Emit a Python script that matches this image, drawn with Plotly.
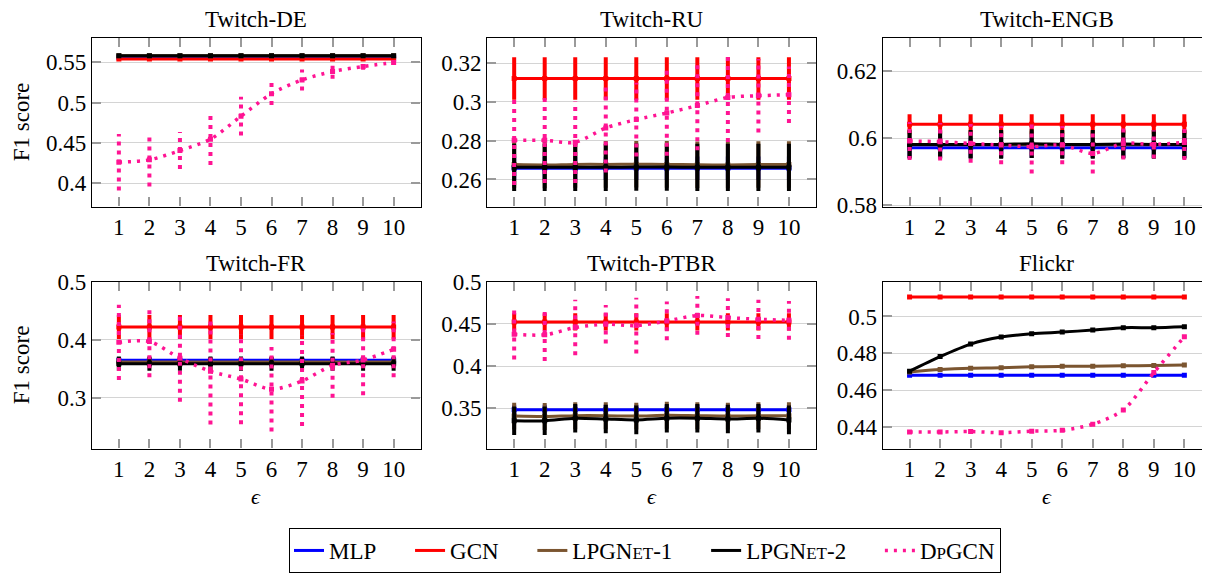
import plotly.graph_objects as go

# ---------------- data ----------------
eps = [1, 2, 3, 4, 5, 6, 7, 8, 9, 10]

# Twitch-DE
de_mlp = [0.556, 0.556, 0.556, 0.556, 0.556, 0.556, 0.556, 0.556, 0.556, 0.556]
de_mlp_sd = [0.002] * 10
de_gcn = [0.554, 0.554, 0.554, 0.554, 0.554, 0.554, 0.554, 0.554, 0.554, 0.554]
de_gcn_sd = [0.002] * 10
de_lpg1 = [0.558, 0.558, 0.558, 0.558, 0.558, 0.558, 0.558, 0.558, 0.558, 0.558]
de_lpg1_sd = [0.002] * 10
de_lpg2 = [0.558, 0.558, 0.558, 0.558, 0.558, 0.558, 0.558, 0.558, 0.558, 0.558]
de_lpg2_sd = [0.002] * 10
de_dp = [0.426, 0.429, 0.4405, 0.4546, 0.483, 0.511, 0.528, 0.5384, 0.5446, 0.5496]
de_dp_sd = [0.035, 0.033, 0.023, 0.032, 0.024, 0.014, 0.013, 0.009, 0.004, 0.003]

# Twitch-RU
ru_mlp = [0.2658] * 10
ru_mlp_sd = [0.006] * 10
ru_gcn = [0.3121] * 10
ru_gcn_sd = [0.011] * 10
ru_lpg1 = [0.2677, 0.2675, 0.2678, 0.2678, 0.2679, 0.2678, 0.2676, 0.2675, 0.2677, 0.2677]
ru_lpg1_sd = [0.012] * 10
ru_lpg2 = [0.2663, 0.2663, 0.2663, 0.2663, 0.2664, 0.2664, 0.2663, 0.2663, 0.2663, 0.2663]
ru_lpg2_sd = [0.0122] * 10
ru_dp = [0.2802, 0.2802, 0.2792, 0.2866, 0.2909, 0.2943, 0.2981, 0.3023, 0.3032, 0.3037]
ru_dp_sd = [0.023, 0.022, 0.021, 0.023, 0.019, 0.022, 0.023, 0.023, 0.019, 0.0146]

# Twitch-ENGB
engb_mlp = [0.5972] * 10
engb_mlp_sd = [0.003] * 10
engb_gcn = [0.6042] * 10
engb_gcn_sd = [0.003] * 10
engb_lpg1 = [0.5981] * 10
engb_lpg1_sd = [0.004] * 10
engb_lpg2 = [0.5982, 0.5982, 0.5982, 0.5982, 0.5984, 0.5982, 0.5982, 0.5983, 0.5982, 0.5982]
engb_lpg2_sd = [0.0043] * 10
engb_dp = [0.5992, 0.599, 0.5985, 0.598, 0.5975, 0.598, 0.5955, 0.5985, 0.5982, 0.5988]
engb_dp_sd = [0.0057, 0.0056, 0.0058, 0.0057, 0.008, 0.0057, 0.006, 0.0048, 0.0042, 0.0053]

# Twitch-FR
fr_mlp = [0.3644] * 10
fr_mlp_sd = [0.005] * 10
fr_gcn = [0.4218] * 10
fr_gcn_sd = [0.0207] * 10
fr_lpg1 = [0.3615] * 10
fr_lpg1_sd = [0.008] * 10
fr_lpg2 = [0.3586] * 10
fr_lpg2_sd = [0.0124] * 10
fr_dp = [0.3954, 0.397, 0.368, 0.3454, 0.332, 0.3144, 0.3287, 0.3557, 0.3649, 0.3833]
fr_dp_sd = [0.065, 0.062, 0.075, 0.092, 0.078, 0.073, 0.078, 0.056, 0.061, 0.048]

# Twitch-PTBR
ptbr_mlp = [0.348] * 10
ptbr_mlp_sd = [0.006] * 10
ptbr_gcn = [0.4524] * 10
ptbr_gcn_sd = [0.0103] * 10
ptbr_lpg1 = [0.3405, 0.340, 0.341, 0.341, 0.3405, 0.3415, 0.341, 0.3405, 0.341, 0.341]
ptbr_lpg1_sd = [0.016] * 10
ptbr_lpg2 = [0.335, 0.335, 0.338, 0.337, 0.336, 0.338, 0.338, 0.337, 0.338, 0.336]
ptbr_lpg2_sd = [0.017] * 10
ptbr_dp = [0.4378, 0.437, 0.4457, 0.4496, 0.448, 0.4535, 0.46, 0.4575, 0.4555, 0.4543]
ptbr_dp_sd = [0.030, 0.031, 0.033, 0.023, 0.033, 0.023, 0.023, 0.023, 0.0233, 0.023]

# Flickr
fl_mlp = [0.4681] * 10
fl_mlp_sd = [0.0004] * 10
fl_gcn = [0.5105] * 10
fl_gcn_sd = [0.0003] * 10
fl_lpg1 = [0.4699, 0.4712, 0.4719, 0.4721, 0.4727, 0.4729, 0.473, 0.4732, 0.4734, 0.4736]
fl_lpg1_sd = [0.0004] * 10
fl_lpg2 = [0.4703, 0.4782, 0.485, 0.4888, 0.4906, 0.4915, 0.4926, 0.4939, 0.4939, 0.4944]
fl_lpg2_sd = [0.0009] * 10
fl_dp = [0.4373, 0.4373, 0.4375, 0.4369, 0.4377, 0.4382, 0.4415, 0.4492, 0.4695, 0.489]
fl_dp_sd = [0.0008] * 10

titles = ["Twitch-DE", "Twitch-RU", "Twitch-ENGB", "Twitch-FR", "Twitch-PTBR", "Flickr"]
y_ranges = [[0.371, 0.58], [0.246, 0.333], [0.5796, 0.63],
            [0.212, 0.5], [0.302, 0.5], [0.4283, 0.5188]]
y_tickvals = [[0.4, 0.45, 0.5, 0.55], [0.26, 0.28, 0.3, 0.32], [0.58, 0.6, 0.62],
              [0.3, 0.4, 0.5], [0.35, 0.4, 0.45, 0.5], [0.44, 0.46, 0.48, 0.5]]
y_ticktext = [["0.4", "0.45", "0.5", "0.55"], ["0.26", "0.28", "0.3", "0.32"],
              ["0.58", "0.6", "0.62"], ["0.3", "0.4", "0.5"],
              ["0.35", "0.4", "0.45", "0.5"], ["0.44", "0.46", "0.48", "0.5"]]

SC = "<span style='font-size:17px'>"
PAD = "\u00a0" * 5
series_names = ["MLP" + PAD, "GCN" + PAD,
                "LPGN" + SC + "ET</span>-1" + PAD,
                "LPGN" + SC + "ET</span>-2" + PAD,
                "D" + SC + "P</span>GCN"]
colors = ["#0000ff", "#ff0000", "#7b5530", "#000000", "#ff1493"]

panels = [
    [(de_mlp, de_mlp_sd), (de_gcn, de_gcn_sd), (de_lpg1, de_lpg1_sd), (de_lpg2, de_lpg2_sd), (de_dp, de_dp_sd)],
    [(ru_mlp, ru_mlp_sd), (ru_gcn, ru_gcn_sd), (ru_lpg1, ru_lpg1_sd), (ru_lpg2, ru_lpg2_sd), (ru_dp, ru_dp_sd)],
    [(engb_mlp, engb_mlp_sd), (engb_gcn, engb_gcn_sd), (engb_lpg1, engb_lpg1_sd), (engb_lpg2, engb_lpg2_sd), (engb_dp, engb_dp_sd)],
    [(fr_mlp, fr_mlp_sd), (fr_gcn, fr_gcn_sd), (fr_lpg1, fr_lpg1_sd), (fr_lpg2, fr_lpg2_sd), (fr_dp, fr_dp_sd)],
    [(ptbr_mlp, ptbr_mlp_sd), (ptbr_gcn, ptbr_gcn_sd), (ptbr_lpg1, ptbr_lpg1_sd), (ptbr_lpg2, ptbr_lpg2_sd), (ptbr_dp, ptbr_dp_sd)],
    [(fl_mlp, fl_mlp_sd), (fl_gcn, fl_gcn_sd), (fl_lpg1, fl_lpg1_sd), (fl_lpg2, fl_lpg2_sd), (fl_dp, fl_dp_sd)],
]

# ---------------- layout geometry (screen pixels) ----------------
OFF = 8                      # default page body margin
W, H = 1210 - OFF, 573 - OFF  # figure size so it fits the window
FONT = "Liberation Serif"
FS = 23
col_px = [(92, 420.5), (487.3, 815.8), (882.7, 1211)]
row_px = [(38, 207), (282.3, 449.3)]
x_ranges = [[0.12, 10.88], [0.12, 10.88], [0.12, 10.84]]


def fx(p):
    return (p - OFF) / W


def fy(p):
    return 1 - (p - OFF) / H


fig = go.Figure()
annotations = []
layout_axes = {}

for i in range(6):
    r, c = divmod(i, 3)
    n = i + 1
    xa = "x" if n == 1 else f"x{n}"
    ya = "y" if n == 1 else f"y{n}"
    for k, (vals, sd) in enumerate(panels[i]):
        if k == 4:
            ex, ey = [], []
            for xv, m, s in zip(eps, vals, sd):
                ex += [xv, xv, None]
                ey += [m - s, m + s, None]
            fig.add_trace(go.Scatter(
                x=ex, y=ey, mode="lines", xaxis=xa, yaxis=ya,
                line=dict(color=colors[k], width=4, dash="4px,5px"),
                showlegend=False, hoverinfo="skip"))
            fig.add_trace(go.Scatter(
                x=eps, y=vals, mode="lines", xaxis=xa, yaxis=ya,
                name=series_names[k], legendgroup=str(k), showlegend=(i == 0),
                line=dict(color=colors[k], width=3.5, dash="3px,6px", shape="spline", smoothing=0.8)))
            fig.add_trace(go.Scatter(
                x=eps, y=vals, mode="markers", xaxis=xa, yaxis=ya,
                showlegend=False, legendgroup=str(k), hoverinfo="skip",
                marker=dict(symbol="square", size=5, color=colors[k])))
        else:
            fig.add_trace(go.Scatter(
                x=eps, y=vals, mode="lines", xaxis=xa, yaxis=ya,
                name=series_names[k], legendgroup=str(k), showlegend=(i == 0),
                line=dict(color=colors[k], width=3, shape="spline", smoothing=0.8)))
            fig.add_trace(go.Scatter(
                x=eps, y=vals, mode="markers", xaxis=xa, yaxis=ya,
                showlegend=False, legendgroup=str(k), hoverinfo="skip",
                marker=dict(symbol="square", size=5, color=colors[k]),
                error_y=dict(type="data", array=sd, visible=True,
                             color=colors[k], thickness=4, width=0)))

    x0, x1 = col_px[c]
    y0, y1 = row_px[r]
    last_col = (c == 2)
    cx = (x0 + x1) / 2
    layout_axes["xaxis" if n == 1 else f"xaxis{n}"] = dict(
        domain=[fx(x0), min(1.0, fx(x1))], anchor=ya, range=x_ranges[c],
        tickvals=eps, ticktext=[str(e) for e in eps],
        ticks="inside", ticklen=9, tickwidth=1.5, tickcolor="#9a9a9a",
        showline=True, linecolor="black", linewidth=1.3, mirror="ticks",
        showgrid=False, zeroline=False, automargin=False,
        tickfont=dict(family=FONT, size=FS, color="black"))
    layout_axes["yaxis" if n == 1 else f"yaxis{n}"] = dict(
        domain=[fy(y1), fy(y0)], anchor=xa, range=y_ranges[i],
        tickvals=y_tickvals[i], ticktext=y_ticktext[i],
        ticks="inside", ticklen=9, tickwidth=1.5, tickcolor="#9a9a9a",
        showline=True, linecolor="black", linewidth=1.3,
        mirror=False if last_col else "ticks",
        showgrid=True, gridcolor="#d4d4d4", gridwidth=1.3, zeroline=False,
        automargin=False,
        tickfont=dict(family=FONT, size=FS, color="black"))

    annotations.append(dict(
        text=titles[i], x=fx(cx), y=fy(y0 - 18),
        xref="paper", yref="paper", xanchor="center", yanchor="middle",
        showarrow=False, font=dict(family=FONT, size=FS, color="black")))
    if r == 1:
        annotations.append(dict(
            text="<i>ϵ</i>", x=fx(cx), y=fy(497),
            xref="paper", yref="paper", xanchor="center", yanchor="middle",
            showarrow=False, font=dict(family=FONT, size=FS - 1, color="black")))
    if c == 0:
        annotations.append(dict(
            text="F1 score", x=fx(21), y=fy((y0 + y1) / 2), textangle=-90,
            xref="paper", yref="paper", xanchor="center", yanchor="middle",
            showarrow=False, font=dict(family=FONT, size=FS, color="black")))

fig.update_layout(
    width=W, height=H,
    margin=dict(l=0, r=0, t=0, b=0),
    paper_bgcolor="white", plot_bgcolor="white",
    font=dict(family=FONT, size=FS, color="black"),
    annotations=annotations,
    legend=dict(orientation="h", x=fx(645), xanchor="center", y=fy(529), yanchor="top",
                bordercolor="black", borderwidth=1, bgcolor="white",
                font=dict(family=FONT, size=FS, color="black"),
                tracegroupgap=0),
    **layout_axes,
)

fig.write_html("out.html")
